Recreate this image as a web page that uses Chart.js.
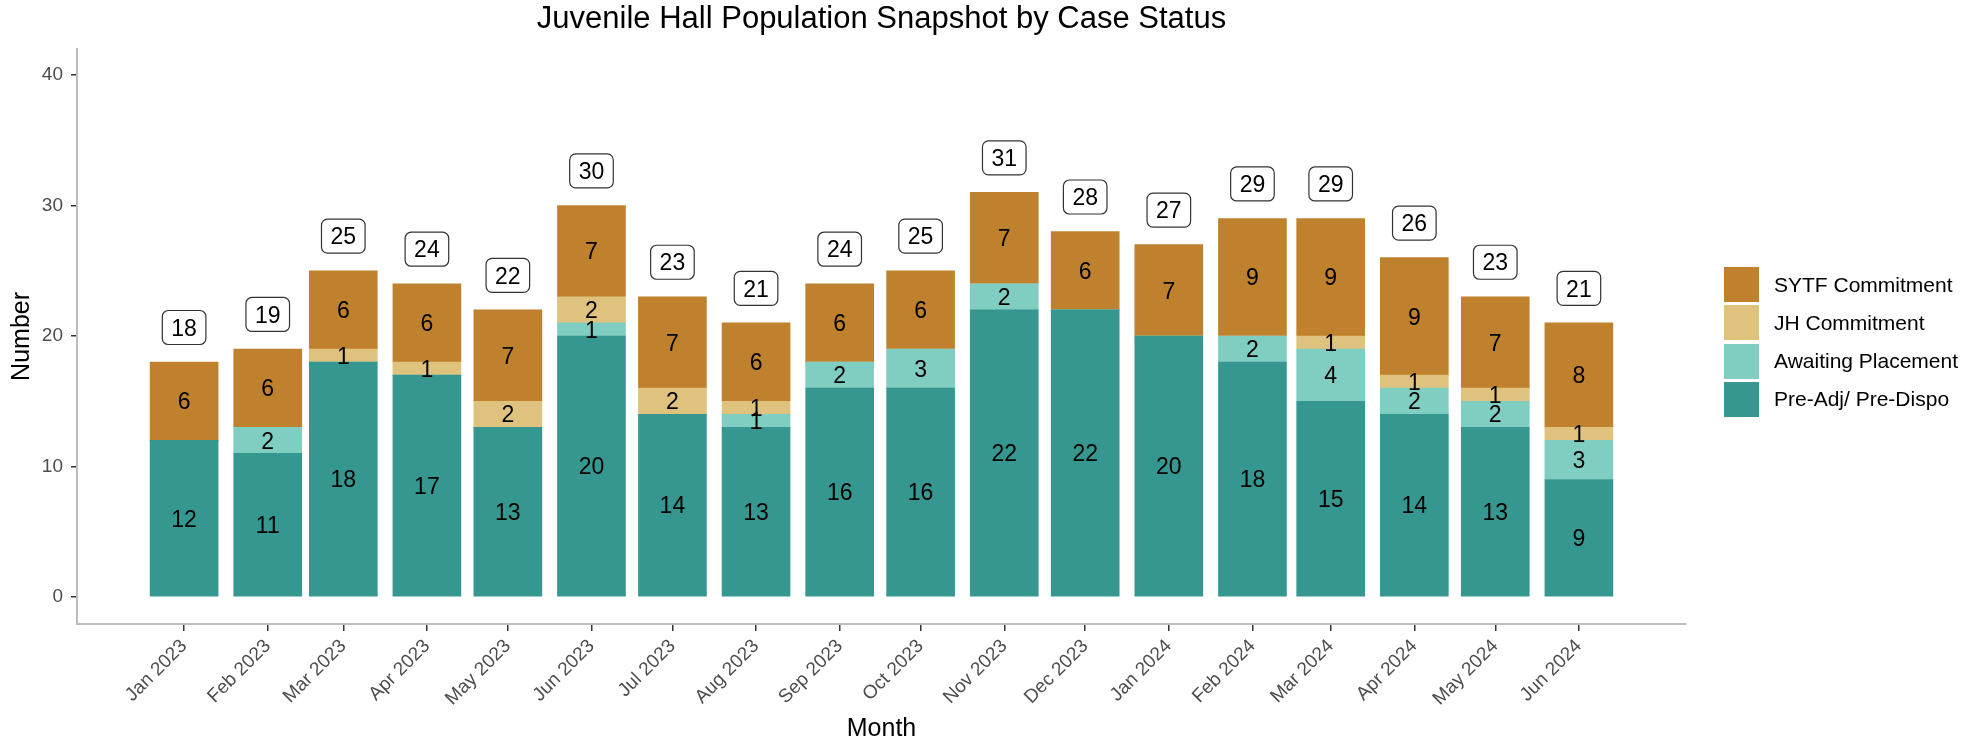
<!DOCTYPE html>
<html>
<head>
<meta charset="utf-8">
<script src="https://cdn.jsdelivr.net/npm/chart.js@4"></script>
<style>
  body { margin: 0; background: #fff; }
  #wrap { position: relative; width: 1980px; height: 744px; }
  #legend { position: absolute; left: 1724px; top: 267px; font-family: "Liberation Sans", Arial, sans-serif; font-size: 21px; color: #000; }
  .item { display: flex; align-items: center; height: 35px; margin-bottom: 3.3px; }
  .key { width: 35px; height: 35px; margin-right: 15px; }
</style>
</head>
<body>
<div id="wrap">
  <canvas id="chart" width="1980" height="744"></canvas>
  <div id="legend"></div>
</div>
<script>
// ---- data ----
const months = ["2023-01", "2023-02", "2023-03", "2023-04", "2023-05", "2023-06",
  "2023-07", "2023-08", "2023-09", "2023-10", "2023-11", "2023-12",
  "2024-01", "2024-02", "2024-03", "2024-04", "2024-05", "2024-06"];
const monthLabels = ["Jan 2023", "Feb 2023", "Mar 2023", "Apr 2023", "May 2023", "Jun 2023",
  "Jul 2023", "Aug 2023", "Sep 2023", "Oct 2023", "Nov 2023", "Dec 2023",
  "Jan 2024", "Feb 2024", "Mar 2024", "Apr 2024", "May 2024", "Jun 2024"];

const preAdj   = [12, 11, 18, 17, 13, 20, 14, 13, 16, 16, 22, 22, 20, 18, 15, 14, 13, 9];
const awaiting = [0, 2, 0, 0, 0, 1, 0, 1, 2, 3, 2, 0, 0, 2, 4, 2, 2, 3];
const jhCommit = [0, 0, 1, 1, 2, 2, 2, 1, 0, 0, 0, 0, 0, 0, 1, 1, 1, 1];
const sytf     = [6, 6, 6, 6, 7, 7, 7, 6, 6, 6, 7, 6, 7, 9, 9, 9, 7, 8];

const seriesNames = ["Pre-Adj/ Pre-Dispo", "Awaiting Placement", "JH Commitment", "SYTF Commitment"];
const seriesColors = ["#35978f", "#80cdc1", "#dfc27d", "#bf812d"];
const yTicks = [0, 10, 20, 30, 40];

const FONT = '"Liberation Sans", Arial, sans-serif';

// x positions = days since first month (date axis like the original)
const day0 = Date.UTC(2023, 0, 1);
const xDays = months.map(m => {
  const [y, mo] = m.split("-").map(Number);
  return (Date.UTC(y, mo - 1, 1) - day0) / 86400000;
});

const series = [preAdj, awaiting, jhCommit, sytf];
const totals = months.map((_, i) => series.reduce((s, arr) => s + arr[i], 0));

// =========================
// LABELS PLUGIN
// =========================
const labelPlugin = {
  id: "segLabels",
  afterDatasetsDraw(chart) {
    const ctx = chart.ctx;
    const yScale = chart.scales.y;
    ctx.save();
    ctx.font = "23px " + FONT;
    ctx.fillStyle = "#000";
    ctx.textAlign = "center";
    ctx.textBaseline = "alphabetic";

    series.forEach((arr, di) => {
      const meta = chart.getDatasetMeta(di);
      meta.data.forEach((bar, j) => {
        if (!arr[j]) return;
        const mid = (bar.y + bar.base) / 2;
        ctx.fillText(String(arr[j]), bar.x, mid + 8.2);
      });
    });

    // total boxes
    const top = chart.getDatasetMeta(0).data;
    totals.forEach((t, j) => {
      const x = top[j].x;
      const cy = yScale.getPixelForValue(t + 2.65);
      const txt = String(t);
      const w = ctx.measureText(txt).width + 18;
      const h = 34;
      ctx.beginPath();
      ctx.roundRect(x - w / 2, cy - h / 2, w, h, 6);
      ctx.fillStyle = "#fff";
      ctx.fill();
      ctx.lineWidth = 1.2;
      ctx.strokeStyle = "#333";
      ctx.stroke();
      ctx.fillStyle = "#000";
      ctx.fillText(txt, x, cy + 8.2);
    });
    ctx.restore();
  }
};

new Chart(document.getElementById("chart"), {
  type: "bar",
  data: {
    datasets: series.map((arr, i) => ({
      label: seriesNames[i],
      data: arr.map((v, j) => ({ x: xDays[j], y: v })),
      backgroundColor: seriesColors[i],
      borderWidth: 0,
      barThickness: 68
    }))
  },
  options: {
    responsive: false,
    animation: false,
    layout: { padding: { top: 0, right: 294, bottom: 0, left: 0 } },
    plugins: {
      legend: { display: false },
      tooltip: { enabled: false },
      title: {
        display: true,
        text: "Juvenile Hall Population Snapshot by Case Status",
        fullSize: false,
        color: "#000",
        font: { family: FONT, size: 31, weight: "normal", lineHeight: 1.2 },
        padding: { top: 0.7, bottom: 11 }
      }
    },
    scales: {
      x: {
        type: "linear",
        stacked: true,
        offset: false,
        min: -39.7,
        max: 556.7,
        afterBuildTicks(scale) {
          scale.ticks = xDays.map(v => ({ value: v }));
        },
        afterFit(scale) { scale.height = 120; },
        ticks: {
          autoSkip: false,
          maxRotation: 45,
          minRotation: 45,
          padding: 4,
          color: "#4d4d4d",
          font: { family: FONT, size: 19 },
          callback: (v, i) => monthLabels[i]
        },
        grid: { offset: false, drawOnChartArea: false, drawTicks: true, tickLength: 7, color: "#333", lineWidth: 1.5 },
        border: { display: true, color: "#bdbdbd", width: 2 },
        title: {
          display: true,
          text: "Month",
          color: "#000",
          font: { family: FONT, size: 25, lineHeight: 1.2 },
          padding: { top: 0, bottom: 0 }
        }
      },
      y: {
        stacked: true,
        min: -2.07,
        max: 42,
        afterBuildTicks(scale) {
          scale.ticks = yTicks.map(v => ({ value: v }));
        },
        afterFit(scale) { scale.width = 77; },
        ticks: {
          padding: 8,
          color: "#4d4d4d",
          font: { family: FONT, size: 19 }
        },
        grid: { drawOnChartArea: false, drawTicks: true, tickLength: 6, color: "#333", lineWidth: 1.5 },
        border: { display: true, color: "#bdbdbd", width: 2 },
        title: {
          display: true,
          text: "Number",
          color: "#000",
          font: { family: FONT, size: 25, lineHeight: 1.2 },
          padding: { top: 7, bottom: 0 }
        }
      }
    }
  },
  plugins: [labelPlugin]
});

// =========================
// LEGEND
// =========================
const legend = document.getElementById("legend");
for (let i = seriesNames.length - 1; i >= 0; i--) {
  const item = document.createElement("div");
  item.className = "item";
  item.innerHTML = '<div class="key" style="background:' + seriesColors[i] + '"></div><span>' + seriesNames[i] + "</span>";
  legend.appendChild(item);
}
</script>
</body>
</html>
